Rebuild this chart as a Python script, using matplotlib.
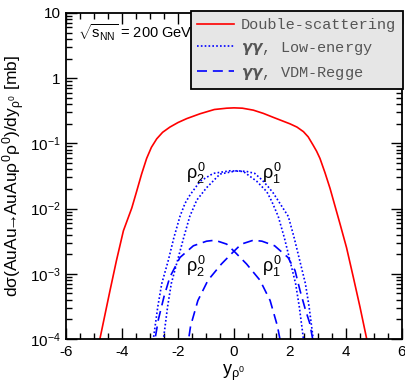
import numpy as np
import matplotlib
matplotlib.use('Agg')
import matplotlib.pyplot as plt
from matplotlib.ticker import LogLocator, FuncFormatter, MultipleLocator, NullFormatter

plt.rcParams['font.family'] = ['Liberation Sans', 'DejaVu Sans']
plt.rcParams['mathtext.fontset'] = 'custom'
plt.rcParams['mathtext.rm'] = 'Liberation Sans'
plt.rcParams['mathtext.it'] = 'Liberation Sans'
plt.rcParams['mathtext.sf'] = 'Liberation Sans'
plt.rcParams['mathtext.bf'] = 'Liberation Serif:bold'

# ---- data (rapidity y, log10 of dsigma/dy in mb) ----
ds_y = [-4.88, -4.79, -4.43, -4.2, -3.95, -3.65, -3.48, -3.30, -3.12, -2.95, -2.76, -2.55,
        -2.29, -2.0, -1.69, -1.21, -0.7, -0.26, 0.0, 0.3, 0.69, 1.05, 1.40, 1.7, 2.0, 2.25,
        2.48, 2.65, 2.83, 2.95, 3.07, 3.25, 3.43, 3.79, 4.02, 4.26, 4.5, 4.74, 4.82]
ds_log10 = [-4.2, -4.0, -3.26, -2.8, -2.34, -1.99, -1.74, -1.47, -1.23, -1.06, -0.93, -0.83,
            -0.75, -0.68, -0.62, -0.545, -0.48, -0.46, -0.455, -0.46, -0.49, -0.54, -0.60,
            -0.65, -0.70, -0.75, -0.82, -0.90, -1.03, -1.12, -1.23, -1.45, -1.69, -2.24,
            -2.60, -3.05, -3.51, -4.0, -4.2]

le2_y = [-2.95, -2.88, -2.72, -2.58, -2.35, -2.15, -1.93, -1.75, -1.57, -1.21, -0.74, -0.14,
         0.33, 0.81, 1.17, 1.35, 1.58, 1.80, 2.0, 2.2, 2.33, 2.48, 2.54]
le2_log10 = [-4.2, -4.0, -3.5, -3.15, -2.80, -2.45, -2.12, -1.92, -1.79, -1.58, -1.46, -1.42,
             -1.43, -1.58, -1.74, -1.89, -2.12, -2.45, -2.80, -3.15, -3.5, -4.0, -4.2]

le1_y = [-2.58, -2.52, -2.37, -2.24, -2.02, -1.80, -1.58, -1.33, -0.98, -0.5, 0.1, 0.45,
         0.74, 1.0, 1.21, 1.40, 1.64, 1.94, 2.15, 2.35, 2.55, 2.68, 2.83, 2.9]
le1_log10 = [-4.2, -4.0, -3.5, -3.15, -2.80, -2.45, -2.12, -1.87, -1.68, -1.47, -1.42, -1.43,
             -1.46, -1.56, -1.66, -1.76, -1.92, -2.12, -2.45, -2.80, -3.15, -3.5, -4.0, -4.2]

vdm2_y = [-2.88, -2.82, -2.70, -2.50, -2.29, -1.93, -1.45, -0.98, -0.68, -0.26, 0.04, 0.45,
          0.93, 1.29, 1.55, 1.64, 1.70]
vdm2_log10 = [-4.2, -4.0, -3.70, -3.35, -3.05, -2.75, -2.57, -2.50, -2.485, -2.545, -2.67,
              -2.85, -3.10, -3.41, -3.80, -4.0, -4.2]

vdm1_y = [-1.68, -1.62, -1.55, -1.29, -0.93, -0.45, -0.04, 0.26, 0.69, 1.0, 1.45, 1.93,
          2.18, 2.36, 2.55, 2.70, 2.81, 2.87]
vdm1_log10 = [-4.2, -4.0, -3.80, -3.41, -3.10, -2.85, -2.67, -2.545, -2.485, -2.50, -2.57,
              -2.75, -2.95, -3.26, -3.55, -3.75, -4.0, -4.2]

legend_labels = ['Double-scattering', r'$\boldsymbol{\gamma\gamma}$, Low-energy',
                 r'$\boldsymbol{\gamma\gamma}$, VDM-Regge']
y_ticks = [1e-4, 1e-3, 1e-2, 1e-1, 1, 10]
x_ticks = [-6, -4, -2, 0, 2, 4, 6]

# ---- figure ----
W, H = 405, 383
fig = plt.figure(figsize=(W / 100, H / 100), dpi=100)
ax = fig.add_axes([66 / W, 1 - 339 / H, (402 - 66) / W, (339 - 13) / H])

red = '#ff0000'
blue = '#0000ff'
lw = 1.2
l_ds, = ax.plot(ds_y, np.power(10.0, ds_log10), color=red, lw=lw)
l_le, = ax.plot(le1_y, np.power(10.0, le1_log10), color=blue, lw=lw, ls=(0, (1.0, 1.3)))
ax.plot(le2_y, np.power(10.0, le2_log10), color=blue, lw=lw, ls=(0, (1.0, 1.3)))
l_vdm, = ax.plot(vdm1_y, np.power(10.0, vdm1_log10), color=blue, lw=lw, ls=(0, (6, 3.5)))
ax.plot(vdm2_y, np.power(10.0, vdm2_log10), color=blue, lw=lw, ls=(0, (6, 3.5)))

ax.set_yscale('log')
ax.set_xlim(-6, 6)
ax.set_ylim(1e-4, 10)

ax.set_xticks(x_ticks)
ax.xaxis.set_minor_locator(MultipleLocator(0.5))
ax.set_yticks(y_ticks)
ax.yaxis.set_minor_locator(LogLocator(base=10, subs=np.arange(2, 10), numticks=20))
ax.yaxis.set_minor_formatter(NullFormatter())


def yfmt(v, pos):
    e = int(round(np.log10(v)))
    if e == 0:
        return '1'
    if e == 1:
        return '10'
    return r'$10^{%d}$' % e


ax.yaxis.set_major_formatter(FuncFormatter(yfmt))
ax.xaxis.set_major_formatter(FuncFormatter(lambda v, p: '%d' % v))

ax.tick_params(which='both', direction='in', top=True, right=True, width=1.0,
               labelsize=11, colors='black')
ax.tick_params(which='major', length=8, pad=4)
ax.tick_params(which='minor', length=4.5)
for s in ax.spines.values():
    s.set_linewidth(1.3)

ax.set_ylabel(r'd$\sigma$(AuAu$\!\!\rightarrow\!\!$AuAu$\rho^{0}\rho^{0}$)/dy$_{\rho^{0}}$ [mb]',
              fontsize=12.5, labelpad=2)
ax.set_xlabel(r'y$_{\rho^{0}}$', fontsize=13, labelpad=3)

ax.text(78 / W, 1 - 33 / H, r'$\sqrt{s_{\rm NN}}$ = 200 GeV', transform=fig.transFigure,
        fontsize=10.5, va='center', ha='left')

ax.text(-1.36, 10 ** -1.46, r'$\rho^{0}_{2}$', fontsize=13, ha='center', va='center')
ax.text(1.36, 10 ** -1.46, r'$\rho^{0}_{1}$', fontsize=13, ha='center', va='center')
ax.text(-1.36, 10 ** -2.89, r'$\rho^{0}_{2}$', fontsize=13, ha='center', va='center')
ax.text(1.36, 10 ** -2.89, r'$\rho^{0}_{1}$', fontsize=13, ha='center', va='center')

leg = ax.legend([l_ds, l_le, l_vdm], legend_labels, loc='upper right',
                bbox_to_anchor=(403 / W, 1 - 11 / H), bbox_transform=fig.transFigure,
                prop={'family': 'Liberation Mono', 'size': 11}, frameon=True, fancybox=False,
                facecolor='#e6e6e6', edgecolor='black', framealpha=1.0,
                handlelength=2.4, handletextpad=0.45, labelspacing=0.52, borderpad=0.45,
                borderaxespad=0)
leg.get_frame().set_linewidth(1.3)
for t in leg.get_texts():
    t.set_color('#555555')

fig.savefig('out.png', dpi=100)
